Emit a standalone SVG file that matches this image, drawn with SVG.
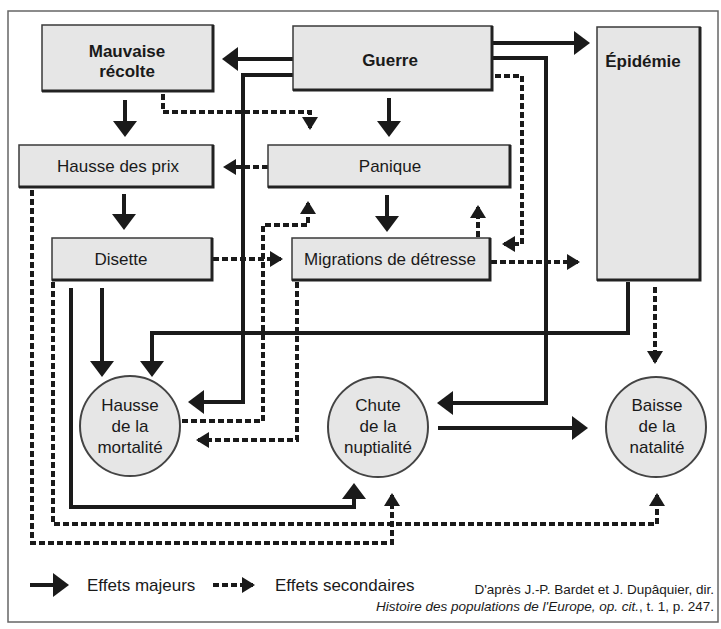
<svg xmlns="http://www.w3.org/2000/svg" width="721" height="629" viewBox="0 0 721 629">
<style>
  .box{fill:#e6e6e6;stroke:#3a3a3a;stroke-width:1.5}
  .shd{fill:none;stroke:#222;stroke-width:3}
  .circ{fill:#e6e6e6;stroke:#444;stroke-width:2}
  .lbl{font-family:"Liberation Sans",Arial,sans-serif;font-size:17px;fill:#1a1a1a;text-anchor:middle}
  .b{font-weight:bold}
  .s{fill:none;stroke:#1a1a1a;stroke-width:4;stroke-linejoin:miter}
  .d{fill:none;stroke:#1a1a1a;stroke-width:4;stroke-dasharray:6 3}
  .leg{font-family:"Liberation Sans",Arial,sans-serif;font-size:17px;fill:#1a1a1a}
  .src{font-family:"Liberation Sans",Arial,sans-serif;font-size:13.5px;fill:#1a1a1a;text-anchor:end}
</style>
<defs>
  <marker id="ah" markerUnits="userSpaceOnUse" markerWidth="20" markerHeight="26" refX="13" refY="0" orient="auto" overflow="visible">
    <path d="M0,-12 L16,0 L0,12 z" fill="#1a1a1a"/>
  </marker>
  <marker id="dh" markerUnits="userSpaceOnUse" markerWidth="16" markerHeight="18" refX="10" refY="0" orient="auto" overflow="visible">
    <path d="M-1,-8 L12,0 L-1,8 z" fill="#1a1a1a"/>
  </marker>
</defs>
<rect x="8" y="11" width="710" height="611" fill="#fff" stroke="#666" stroke-width="1.5"/>

<g id="connectors">
  <path class="s" d="M293,59 H225" marker-end="url(#ah)"/>
  <path class="s" d="M493,43 H587" marker-end="url(#ah)"/>
  <path class="s" d="M389,98 V134" marker-end="url(#ah)"/>
  <path class="s" d="M125,100 V134" marker-end="url(#ah)"/>
  <path class="s" d="M124,194 V227" marker-end="url(#ah)"/>
  <path class="s" d="M387,195 V229" marker-end="url(#ah)"/>
  <path class="s" d="M293,75 H243 V402 H191" marker-end="url(#ah)"/>
  <path class="s" d="M628,282 V333 H152 V374" marker-end="url(#ah)"/>
  <path class="s" d="M102,288 V374" marker-end="url(#ah)"/>
  <path class="s" d="M71,288 V507 H354 V486" marker-end="url(#ah)"/>
  <path class="s" d="M492,58 H546 V403 H440" marker-end="url(#ah)"/>
  <path class="s" d="M438,428 H585" marker-end="url(#ah)"/>

  <path class="d" d="M163,94 V112 H310 V128" marker-end="url(#dh)"/>
  <path class="d" d="M268,167 H225" marker-end="url(#dh)"/>
  <path class="d" d="M213,259 H281" marker-end="url(#dh)"/>
  <path class="d" d="M478,237 V207" marker-end="url(#dh)"/>
  <path class="d" d="M495,76 H522 V244 H504" marker-end="url(#dh)"/>
  <path class="d" d="M491,262 H578" marker-end="url(#dh)"/>
  <path class="d" d="M655,287 V362" marker-end="url(#dh)"/>
  <path class="d" d="M182,421 H263 V225 H308 V203" marker-end="url(#dh)"/>
  <path class="d" d="M297,282 V440 H198" marker-end="url(#dh)"/>
  <path class="d" d="M53,282 V524 H657 V495" marker-end="url(#dh)"/>
  <path class="d" d="M32,190 V543 H392 V495" marker-end="url(#dh)"/>
</g>

<g id="mauvaise">
  <rect class="box" x="42" y="25" width="171" height="66"/>
  <path class="shd" d="M42,91 H213 V25"/>
  <text class="lbl b" x="127" y="57">Mauvaise</text>
  <text class="lbl b" x="127" y="77">récolte</text>
</g>
<g id="guerre">
  <rect class="box" x="293" y="26" width="199" height="64"/>
  <path class="shd" d="M293,90 H492 V26"/>
  <text class="lbl b" x="390" y="66">Guerre</text>
</g>
<g id="epidemie">
  <rect class="box" x="597" y="27" width="103" height="253"/>
  <path class="shd" d="M597,280 H700 V27"/>
  <text class="lbl b" x="643" y="67">Épidémie</text>
</g>
<g id="hausse-prix">
  <rect class="box" x="19" y="145" width="194" height="42"/>
  <path class="shd" d="M19,187 H213 V145"/>
  <text class="lbl" x="118" y="172">Hausse des prix</text>
</g>
<g id="panique">
  <rect class="box" x="268" y="145" width="242" height="42"/>
  <path class="shd" d="M268,187 H510 V145"/>
  <text class="lbl" x="390" y="172">Panique</text>
</g>
<g id="disette">
  <rect class="box" x="52" y="238" width="160" height="42"/>
  <path class="shd" d="M52,280 H212 V238"/>
  <text class="lbl" x="121" y="265">Disette</text>
</g>
<g id="migrations">
  <rect class="box" x="292" y="238" width="198" height="42"/>
  <path class="shd" d="M292,280 H490 V238"/>
  <text class="lbl" x="390" y="265">Migrations de détresse</text>
</g>
<g id="mortalite">
  <circle class="circ" cx="130" cy="426" r="50"/>
  <text class="lbl" x="130" y="411">Hausse</text>
  <text class="lbl" x="130" y="432">de la</text>
  <text class="lbl" x="130" y="453">mortalité</text>
</g>
<g id="nuptialite">
  <circle class="circ" cx="378" cy="427" r="50"/>
  <text class="lbl" x="378" y="411">Chute</text>
  <text class="lbl" x="378" y="432">de la</text>
  <text class="lbl" x="378" y="453">nuptialité</text>
</g>
<g id="natalite">
  <circle class="circ" cx="656" cy="427" r="50"/>
  <text class="lbl" x="657" y="411">Baisse</text>
  <text class="lbl" x="657" y="432">de la</text>
  <text class="lbl" x="657" y="453">natalité</text>
</g>

<g id="legend">
  <path class="s" d="M30,585 H66" marker-end="url(#ah)"/>
  <text class="leg" x="87" y="591">Effets majeurs</text>
  <path class="d" d="M213,585 H253" marker-end="url(#dh)"/>
  <text class="leg" x="275" y="591">Effets secondaires</text>
  <text class="src" x="714" y="594">D'après J.-P. Bardet et J. Dupâquier, dir.</text>
  <text class="src" x="714" y="611"><tspan font-style="italic">Histoire des populations de l'Europe, op. cit.</tspan>, t. 1, p. 247.</text>
</g>
</svg>
